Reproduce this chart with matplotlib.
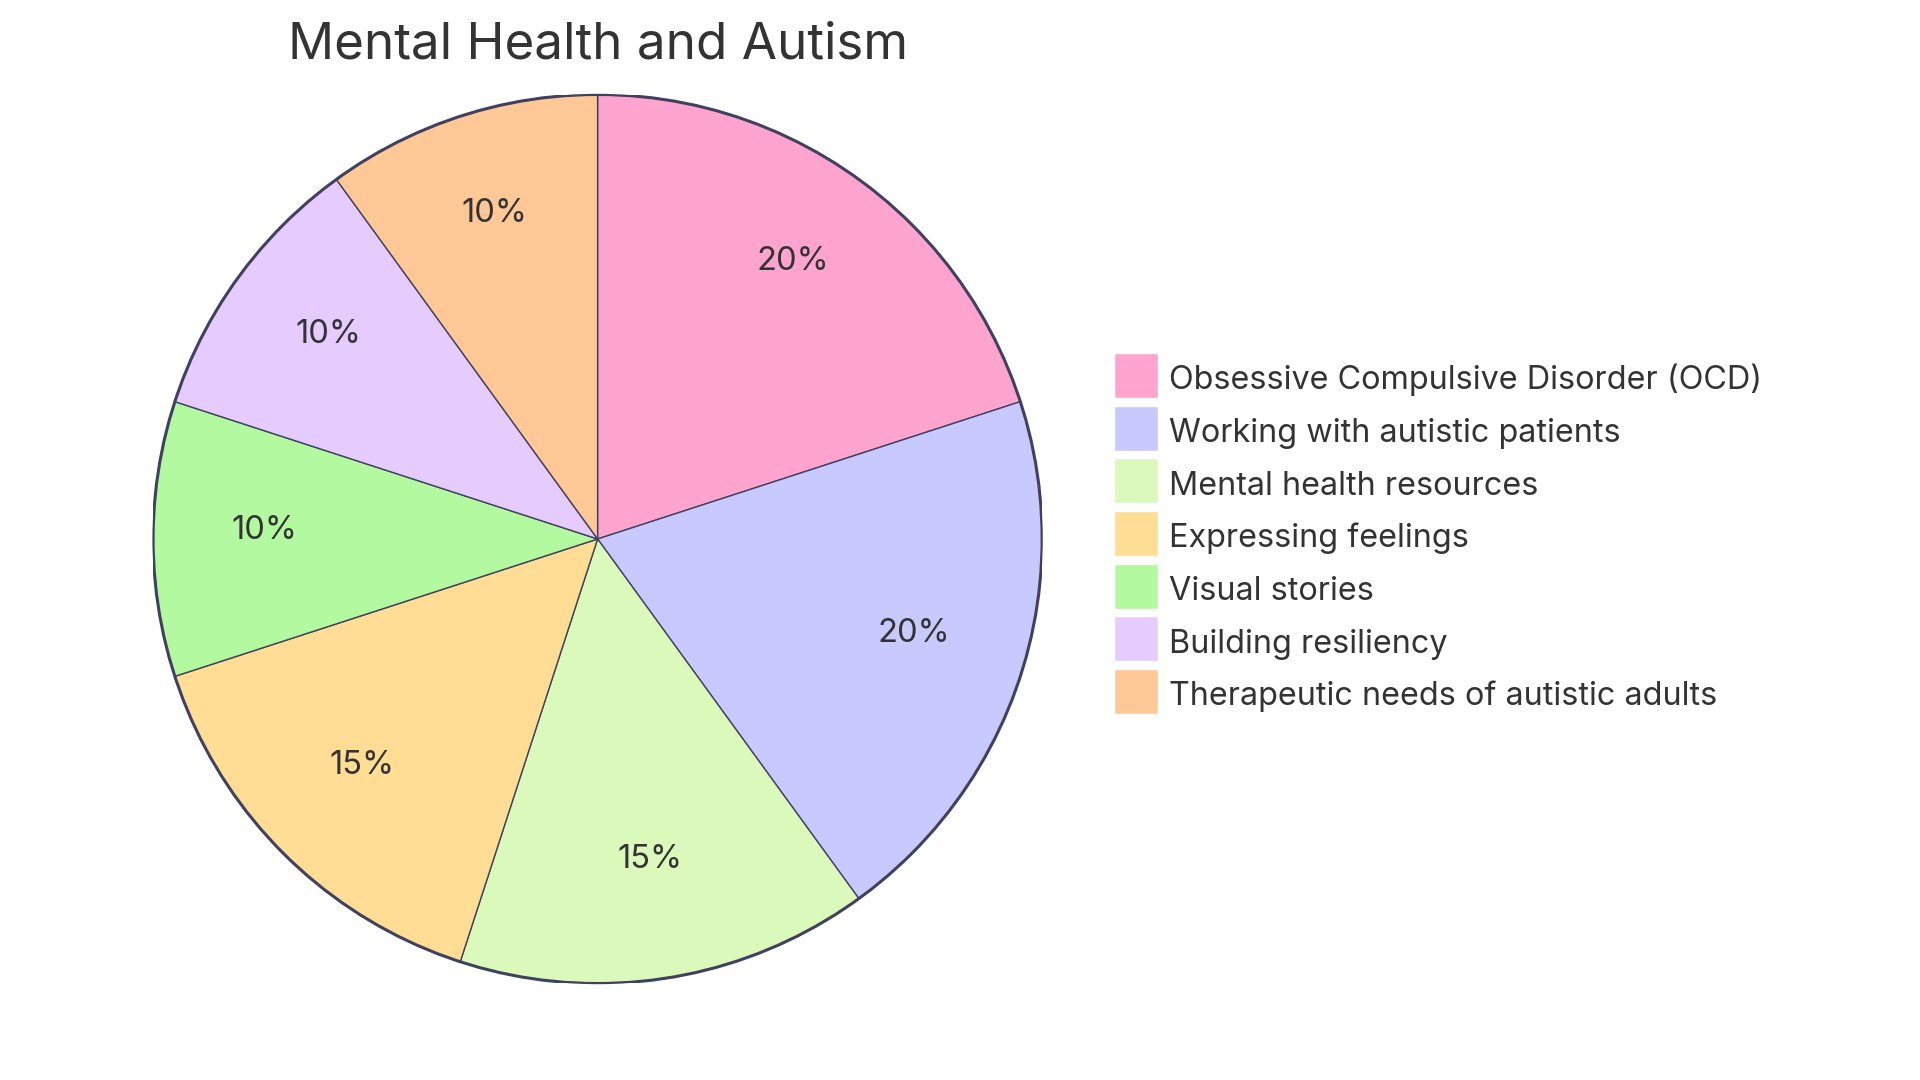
import numpy as np
import matplotlib
matplotlib.use("Agg")
import matplotlib.pyplot as plt
from matplotlib.patches import Circle, Rectangle

plt.rcParams['font.family'] = ['Inter', 'DejaVu Sans']

title = "Mental Health and Autism"
labels = [
    "Obsessive Compulsive Disorder (OCD)",
    "Working with autistic patients",
    "Mental health resources",
    "Expressing feelings",
    "Visual stories",
    "Building resiliency",
    "Therapeutic needs of autistic adults",
]
values = [20, 20, 15, 15, 10, 10, 10]
colors = ['#FFA3CF', '#C8CAFF', '#DCF9BC', '#FFDD95', '#B3F9A0', '#E6CBFF', '#FFC896']

text_color = '#333333'
edge_color = '#3f415e'

W, H = 1920, 1080
fig = plt.figure(figsize=(W / 100, H / 100), dpi=100)

# pie geometry in pixels (from top-left)
cx, cy, r = 597.6, 539.0, 444.5
ax = fig.add_axes([(cx - r) / W, (H - cy - r) / H, 2 * r / W, 2 * r / H])

wedges, texts, autotexts = ax.pie(
    values, colors=colors, startangle=90, counterclock=False, radius=1,
    autopct=lambda p: f"{p:.0f}%", pctdistance=0.749,
    wedgeprops=dict(edgecolor=edge_color, linewidth=1.0),
    textprops=dict(color=text_color, fontsize=23.5),
)
# labels sit a touch above the centroid in the original
for t in autotexts:
    x, y = t.get_position()
    t.set_position((x, y + 0.019))
ax.add_patch(Circle((0, 0), 1, fill=False, edgecolor=edge_color, linewidth=2.2))
# pie() resets the limits, so pin them afterwards
ax.set_xlim(-1, 1)
ax.set_ylim(-1, 1)
ax.set_aspect('equal')
ax.axis('off')

fig.text(cx / W, 1 - 45 / H, title, ha='center', va='center',
         fontsize=36.8, color=text_color)

# legend: square swatches + labels, laid out in pixels
box_x, box_top, box_w, box_h, row_step = 1114, 353, 44, 45, 52.65
for i, (lab, col) in enumerate(zip(labels, colors)):
    top = box_top + i * row_step
    fig.add_artist(Rectangle((box_x / W, 1 - (top + box_h) / H), box_w / W, box_h / H,
                             transform=fig.transFigure, facecolor=col,
                             edgecolor='white', linewidth=1))
    fig.text((box_x + box_w + 11) / W, 1 - (top + 36.4) / H, lab,
             ha='left', va='baseline', fontsize=23.3, color=text_color)

fig.savefig("out.png", dpi=100, facecolor='white')
